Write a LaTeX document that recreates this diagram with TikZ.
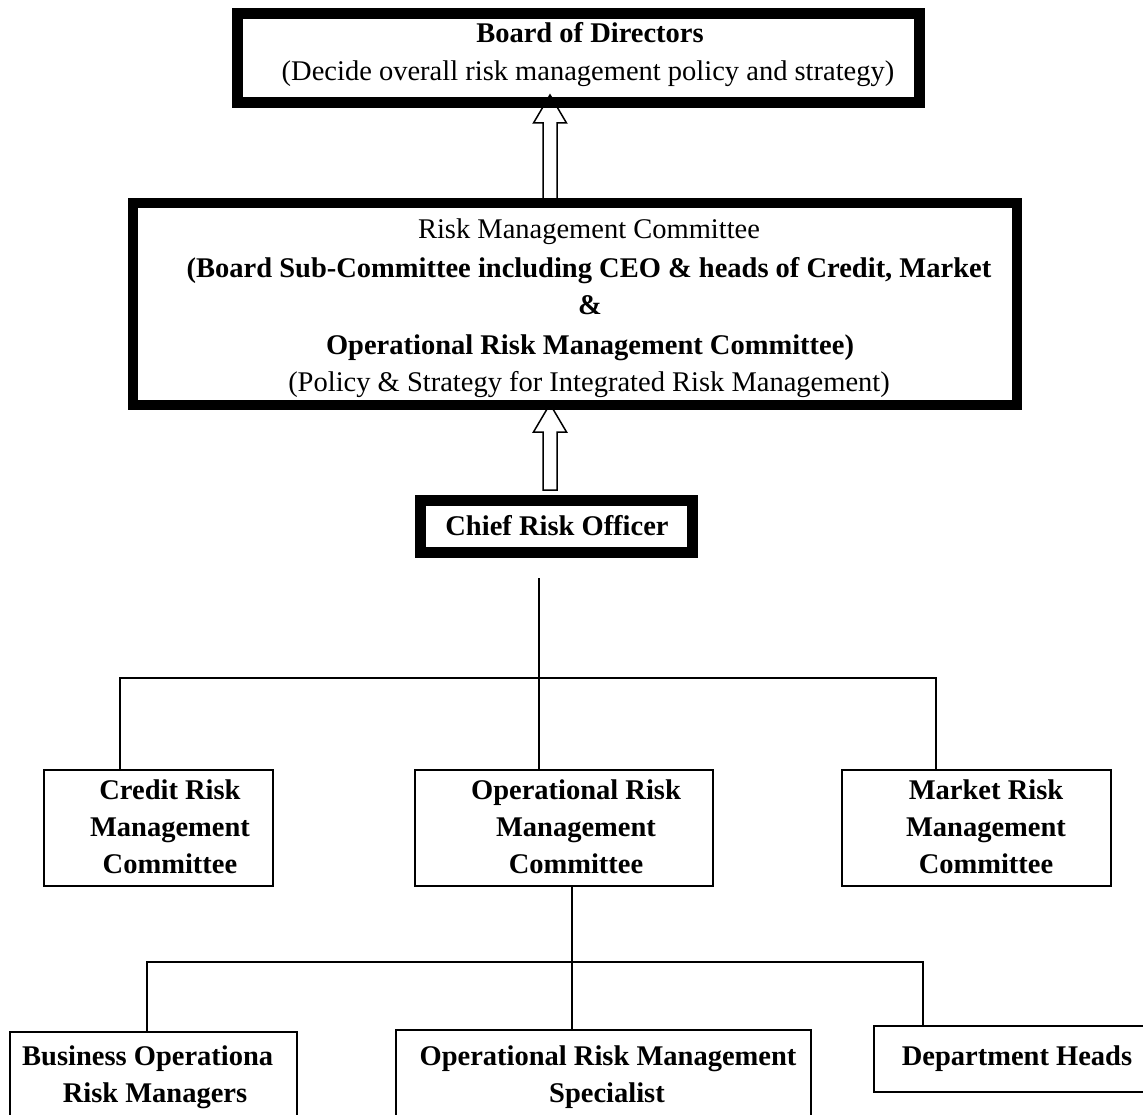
\documentclass[tikz,border=0pt]{standalone}
\usepackage{fontspec}
\setmainfont{Liberation Serif}
\usetikzlibrary{calc}
\begin{document}
\begin{tikzpicture}[x=1pt,y=-1pt,
  thickbox/.style={draw, line width=#1, inner sep=0pt},
  thinbox/.style={draw, line width=1.5pt, inner sep=0pt},
  txt/.style={anchor=base, inner sep=0pt, font=\fontsize{28.5}{34}\selectfont},
  btxt/.style={anchor=base, inner sep=0pt, font=\fontsize{28.5}{34}\selectfont\bfseries},
  conn/.style={line width=1.5pt},
  hollow/.style={draw, line width=1.5pt, fill=white, line join=miter}]
\useasboundingbox[fill=white] (0,0) rectangle (1143,1115);

% box nodes (shapes only)
\node[thickbox=11pt, minimum width=682pt, minimum height=89pt] (board) at (578.5,58) {};
\node[thickbox=10pt, minimum width=884pt, minimum height=202pt] (rmc) at (575,304) {};
\node[thickbox=11pt, minimum width=272pt, minimum height=52pt] (cro) at (556.5,526.5) {};
\node[thinbox, minimum width=229pt, minimum height=116pt] (crc) at (158.5,828) {};
\node[thinbox, minimum width=298pt, minimum height=116pt] (opc) at (564,828) {};
\node[thinbox, minimum width=269pt, minimum height=116pt] (mrc) at (976.5,828) {};
\node[thinbox, minimum width=287pt, minimum height=98pt] (bus) at (153.5,1081) {};
\node[thinbox, minimum width=415pt, minimum height=100pt] (spec) at (603.5,1080) {};
\node[thinbox, minimum width=281pt, minimum height=66pt] (dept) at (1014.5,1059) {};

% hollow arrows
\draw[hollow] let \p1=(rmc.north), \p2=(board.south) in
  (543pt,\y1-7pt) -- (543pt,\y2-15pt) -- (533.5pt,\y2-15pt) -- (550pt,\y2+13pt)
  -- (566.5pt,\y2-15pt) -- (557pt,\y2-15pt) -- (557pt,\y1-7pt) -- cycle;
\draw[hollow] let \p1=(cro.north), \p2=(rmc.south) in
  (543pt,\y1+5pt) -- (543pt,\y2-22pt) -- (533.5pt,\y2-22pt) -- (550pt,\y2+6pt)
  -- (566.5pt,\y2-22pt) -- (557pt,\y2-22pt) -- (557pt,\y1+5pt) -- cycle;
% redraw thick borders over arrow ends
\node[thickbox=11pt, minimum width=682pt, minimum height=89pt] (board2) at (board) {};
\node[thickbox=10pt, minimum width=884pt, minimum height=202pt] (rmc2) at (rmc) {};

% connectors
\draw[conn] let \p1=(cro.south), \p2=(opc.north) in (539pt,\y1-20pt) -- (539pt,\y2);
\draw[conn] let \p1=(crc.north), \p2=(mrc.north) in
  (120pt,\y1) -- (120pt,-678pt) -- (936pt,-678pt) -- (936pt,\y2);
\draw[conn] let \p1=(opc.south), \p2=(spec.north) in (572pt,\y1) -- (572pt,\y2);
\draw[conn] let \p1=(bus.north), \p2=(dept.north) in
  (147pt,\y1) -- (147pt,-962pt) -- (923pt,-962pt) -- (923pt,\y2);

% texts
\node[btxt] (t1) at (590,43) {Board of Directors};
\node[txt] (t2) at (588,81) {(Decide overall risk management policy and strategy)};
\node[txt] (t3) at (589,239) {Risk Management Committee};
\node[btxt] (t4) at (589,278) {(Board Sub-Committee including CEO \& heads of Credit, Market};
\node[btxt] (t5) at (590,315) {\&};
\node[btxt] (t6) at (590,354) {Operational Risk Management Committee)};
\node[txt] (t7) at (589,391) {(Policy \& Strategy for Integrated Risk Management)};
\node[btxt] (t8) at (557,535) {Chief Risk Officer};
\node[btxt] (c1) at (170,799) {Credit Risk};
\node[btxt] (c2) at (170,836) {Management};
\node[btxt] (c3) at (170,873) {Committee};
\node[btxt] (o1) at (576,799) {Operational Risk};
\node[btxt] (o2) at (576,836) {Management};
\node[btxt] (o3) at (576,873) {Committee};
\node[btxt] (m1) at (986,799) {Market Risk};
\node[btxt] (m2) at (986,836) {Management};
\node[btxt] (m3) at (986,873) {Committee};
\begin{scope}
\clip (0,1030) rectangle (272.5,1080);
\node[btxt, anchor=base west] (b1) at (22,1065) {Business Operational};
\end{scope}
\node[btxt] (b2) at (155,1102) {Risk Managers};
\node[btxt] (s1) at (608,1065) {Operational Risk Management};
\node[btxt] (s2) at (607,1102) {Specialist};
\node[btxt] (d1) at (1017,1065) {Department Heads};
\end{tikzpicture}
\end{document}
